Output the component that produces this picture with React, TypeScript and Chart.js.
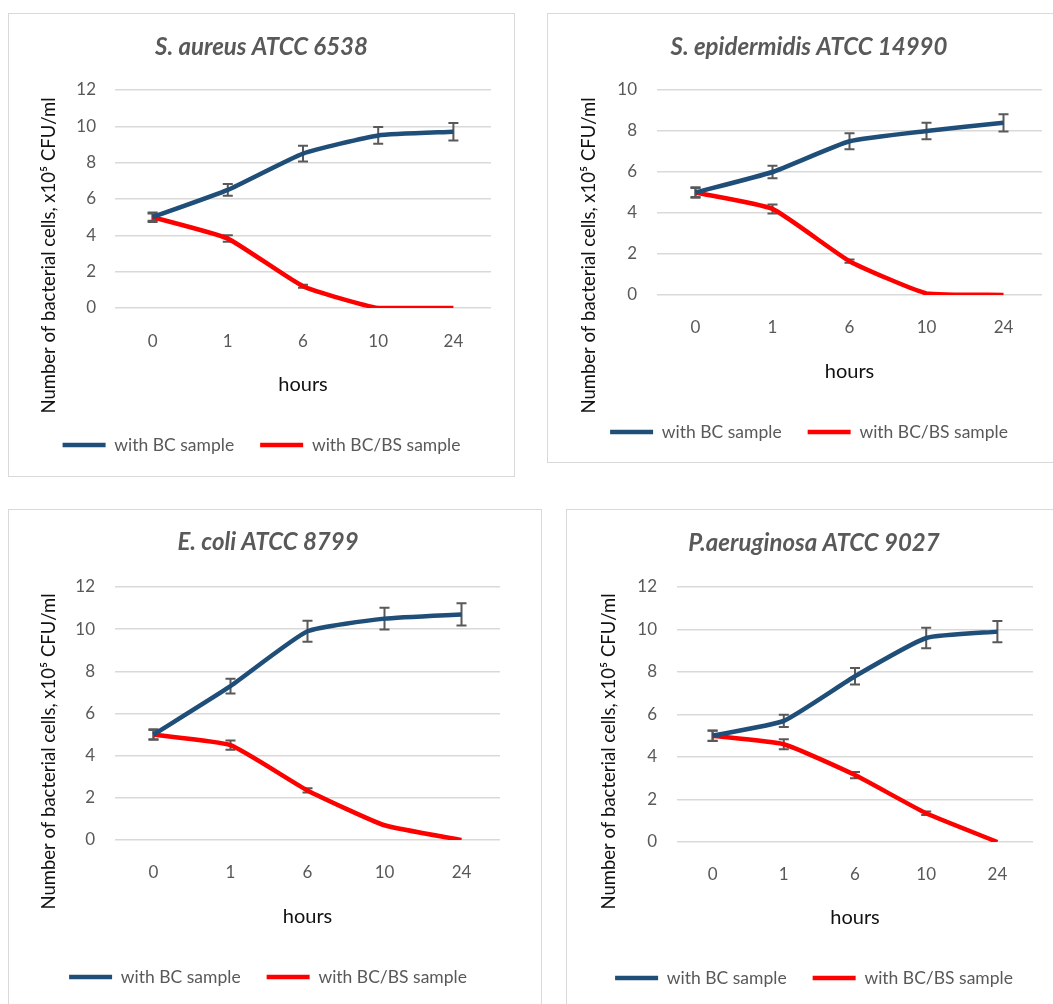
import React, { useEffect, useRef } from "react";
import { Chart, registerables } from "chart.js";

Chart.register(...registerables);

const hours = ["0", "1", "6", "10", "24"];
const seriesNames = ["with BC sample", "with BC/BS sample"];
const yTitle = "Number of bacterial cells, x10\u2075 CFU/ml";
const xTitle = "hours";

const aureusTitle = "S. aureus ATCC 6538";
const aureusBC = [5.0, 6.5, 8.5, 9.5, 9.7];
const aureusBCerr = [0.26, 0.32, 0.43, 0.46, 0.48];
const aureusBS = [5.0, 3.82, 1.2, 0, 0];
const aureusBSerr = [0.2, 0.18, 0.08, 0, 0];

const epiTitle = "S. epidermidis ATCC 14990";
const epiBC = [5.0, 6.0, 7.5, 8.0, 8.4];
const epiBCerr = [0.26, 0.3, 0.39, 0.4, 0.42];
const epiBS = [5.0, 4.2, 1.65, 0.08, 0];
const epiBSerr = [0.22, 0.22, 0.08, 0, 0];

const coliTitle = "E. coli ATCC 8799";
const coliBC = [5.0, 7.3, 9.9, 10.5, 10.7];
const coliBCerr = [0.25, 0.35, 0.5, 0.52, 0.53];
const coliBS = [5.0, 4.5, 2.35, 0.7, 0];
const coliBSerr = [0.22, 0.22, 0.1, 0, 0];

const aerTitle = "P.aeruginosa ATCC 9027";
const aerBC = [5.0, 5.7, 7.8, 9.6, 9.9];
const aerBCerr = [0.25, 0.29, 0.39, 0.48, 0.5];
const aerBS = [5.0, 4.6, 3.15, 1.35, 0];
const aerBSerr = [0.23, 0.23, 0.15, 0.08, 0];

const BLUE = "#1F4E79";
const RED = "#FF0000";
const GRAY = "#595959";
const FONT = "Lato, 'Open Sans', sans-serif";

const TITLE_FS = 24;
const TICK_FS = 17;
const XTITLE_FS = 20;
const YTITLE_FS = 18.5;
const LEGEND_FS = 17.5;
const LH = 1.2;

type Rect = { x: number; y: number; w: number; h: number };
type Panel = {
  title: string;
  bc: number[];
  bcErr: number[];
  bs: number[];
  bsErr: number[];
  yMax: number;
  border: Rect;
  canvas: Rect;
  area: { left: number; top: number; right: number; bottom: number };
  titleY: number;
  tickY: number;
  xTitleY: number;
  legendY: number;
  yTitleX: number;
  yTitleY: number;
  legendGap: number;
  yTickPad: number;
};

// area / titleY / tickY / ... are in canvas coordinates
const panels: Panel[] = [
  {
    title: aureusTitle, bc: aureusBC, bcErr: aureusBCerr, bs: aureusBS, bsErr: aureusBSerr, yMax: 12,
    border: { x: 8, y: 13, w: 507, h: 464 },
    canvas: { x: 8, y: 13, w: 507, h: 464 },
    area: { left: 107, top: 77, right: 483, bottom: 295 },
    titleY: 34, tickY: 329, xTitleY: 372, legendY: 432, yTitleX: 41, yTitleY: 242.5, legendGap: 26, yTickPad: 19,
  },
  {
    title: epiTitle, bc: epiBC, bcErr: epiBCerr, bs: epiBS, bsErr: epiBSerr, yMax: 10,
    border: { x: 547, y: 13, w: 530, h: 450 },
    canvas: { x: 547, y: 13, w: 524, h: 450 },
    area: { left: 110, top: 77, right: 495, bottom: 282 },
    titleY: 34, tickY: 315, xTitleY: 359, legendY: 419, yTitleX: 42, yTitleY: 242.5, legendGap: 26, yTickPad: 20,
  },
  {
    title: coliTitle, bc: coliBC, bcErr: coliBCerr, bs: coliBS, bsErr: coliBSerr, yMax: 12,
    border: { x: 8, y: 509, w: 534, h: 510 },
    canvas: { x: 8, y: 509, w: 520, h: 510 },
    area: { left: 107, top: 78, right: 492, bottom: 331 },
    titleY: 33, tickY: 364, xTitleY: 408, legendY: 468, yTitleX: 41, yTitleY: 242.5, legendGap: 26, yTickPad: 20,
  },
  {
    title: aerTitle, bc: aerBC, bcErr: aerBCerr, bs: aerBS, bsErr: aerBSerr, yMax: 12,
    border: { x: 566, y: 509, w: 500, h: 510 },
    canvas: { x: 566, y: 509, w: 496, h: 510 },
    area: { left: 111, top: 78, right: 467, bottom: 333 },
    titleY: 34, tickY: 366, xTitleY: 409, legendY: 469, yTitleX: 43, yTitleY: 242.5, legendGap: 26, yTickPad: 20,
  },
];

const errorBars = {
  id: "errorBars",
  beforeDatasetsDraw(chart: any) {
    const ctx = chart.ctx;
    const yScale = chart.scales.y;
    ctx.save();
    ctx.strokeStyle = GRAY;
    ctx.lineWidth = 2;
    chart.data.datasets.forEach((ds: any, di: number) => {
      const meta = chart.getDatasetMeta(di);
      const errs: number[] = ds.errors || [];
      meta.data.forEach((pt: any, i: number) => {
        const e = errs[i];
        if (!e) return;
        const v = ds.data[i];
        const yTop = yScale.getPixelForValue(v + e);
        const yBot = yScale.getPixelForValue(v - e);
        const x = pt.x;
        ctx.beginPath();
        ctx.moveTo(x, yTop);
        ctx.lineTo(x, yBot);
        ctx.moveTo(x - 5, yTop);
        ctx.lineTo(x + 5, yTop);
        ctx.moveTo(x - 5, yBot);
        ctx.lineTo(x + 5, yBot);
        ctx.stroke();
      });
    });
    ctx.restore();
  },
};

// Vertical axis title, centred on the whole plot block as in the reference
const yAxisTitle = {
  id: "yAxisTitle",
  afterDraw(chart: any, _args: any, opts: any) {
    const ctx = chart.ctx;
    ctx.save();
    ctx.translate(opts.x, opts.y);
    ctx.rotate(-Math.PI / 2);
    ctx.textAlign = "center";
    ctx.textBaseline = "middle";
    ctx.fillStyle = "#111111";
    ctx.font = `${YTITLE_FS}px ${FONT}`;
    ctx.fillText(opts.text, 0, 0);
    ctx.restore();
  },
};

function PanelChart({ p }: { p: Panel }) {
  const ref = useRef<HTMLCanvasElement>(null);
  useEffect(() => {
    if (!ref.current) return;
    const W = p.canvas.w;
    const H = p.canvas.h;
    const titleLH = TITLE_FS * LH;
    const titlePadTop = p.titleY - titleLH / 2;
    const titlePadBottom = p.area.top - titlePadTop - titleLH;
    const legendTop = p.legendY - p.legendGap - LEGEND_FS / 2;
    const layoutPadBottom = H - (legendTop + LEGEND_FS + p.legendGap + 10);
    const xScaleH = legendTop - p.area.bottom;
    const xTickPad = p.tickY - p.area.bottom - (TICK_FS * LH) / 2;
    const xTitlePadBottom = legendTop - p.xTitleY - (XTITLE_FS * LH) / 2;
    const rightW = W - p.area.right;
    const chart = new Chart(ref.current, {
      type: "line",
      data: {
        labels: hours,
        datasets: [
          {
            label: seriesNames[0],
            data: p.bc,
            errors: p.bcErr,
            borderColor: BLUE,
            backgroundColor: BLUE,
            borderWidth: 4.5,
            pointRadius: 0,
            tension: 0.15,
            yAxisID: "y",
          } as any,
          {
            label: seriesNames[1],
            data: p.bs,
            errors: p.bsErr,
            borderColor: RED,
            backgroundColor: RED,
            borderWidth: 4.5,
            pointRadius: 0,
            tension: 0.15,
            yAxisID: "y",
          } as any,
        ],
      },
      options: {
        animation: false,
        responsive: false,
        maintainAspectRatio: false,
        layout: { padding: { left: 0, top: 0, right: 0, bottom: layoutPadBottom } },
        plugins: {
          title: {
            display: true,
            text: p.title,
            color: GRAY,
            font: { family: FONT, size: TITLE_FS, weight: "bold", style: "italic", lineHeight: LH },
            padding: { top: titlePadTop, bottom: titlePadBottom },
          },
          legend: {
            position: "bottom",
            labels: {
              usePointStyle: true,
              pointStyle: "line",
              pointStyleWidth: 43,
              padding: p.legendGap,
              color: GRAY,
              font: { family: FONT, size: LEGEND_FS },
            },
          },
          tooltip: { enabled: false },
          yAxisTitle: { text: yTitle, x: p.yTitleX, y: p.yTitleY },
        },
        scales: {
          x: {
            offset: true,
            grid: { display: false, drawTicks: false },
            border: { display: false },
            ticks: { color: GRAY, padding: xTickPad, font: { family: FONT, size: TICK_FS, lineHeight: LH } },
            title: {
              display: true,
              text: xTitle,
              color: "#111111",
              font: { family: FONT, size: XTITLE_FS, lineHeight: LH },
              padding: { top: 0, bottom: xTitlePadBottom },
            },
            afterFit: (s: any) => {
              s.height = xScaleH;
            },
          },
          y: {
            min: 0,
            max: p.yMax,
            grid: { color: "#D9D9D9", lineWidth: 1.5, drawTicks: false },
            border: { display: false },
            ticks: { stepSize: 2, color: GRAY, padding: p.yTickPad, font: { family: FONT, size: TICK_FS, lineHeight: LH } },
            title: { display: false },
            afterFit: (s: any) => {
              s.width = p.area.left;
            },
          },
          spacer: {
            type: "linear",
            position: "right",
            display: true,
            grid: { display: false, drawTicks: false },
            border: { display: false },
            ticks: { display: false },
            afterFit: (s: any) => {
              s.width = rightW;
            },
          },
        },
      } as any,
      plugins: [errorBars, yAxisTitle],
    });
    return () => chart.destroy();
  }, [p]);
  return (
    <>
      <div
        style={{
          position: "absolute",
          left: p.border.x,
          top: p.border.y,
          width: p.border.w,
          height: p.border.h,
          boxSizing: "border-box",
          border: "1.5px solid #D9D9D9",
          background: "#fff",
        }}
      />
      <canvas
        ref={ref}
        width={p.canvas.w}
        height={p.canvas.h}
        style={{ position: "absolute", left: p.canvas.x, top: p.canvas.y, width: p.canvas.w, height: p.canvas.h }}
      />
    </>
  );
}

export default function App() {
  return (
    <div
      style={{
        position: "absolute",
        left: 0,
        top: 0,
        width: 1053,
        height: 1004,
        overflow: "hidden",
        background: "#fff",
      }}
    >
      {panels.map((p, i) => (
        <PanelChart key={i} p={p} />
      ))}
    </div>
  );
}
